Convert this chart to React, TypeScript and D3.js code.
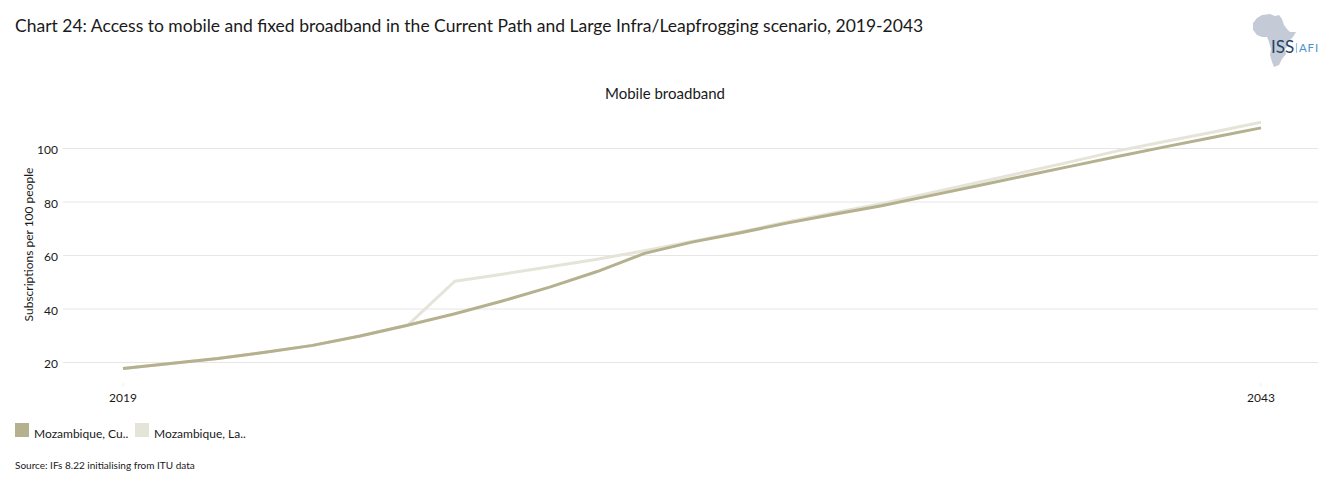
import React from "react";
import * as d3 from "d3";

const years = d3.range(2019, 2044);
const currentPath = [17.8, 19.6, 21.5, 23.8, 26.4, 29.9, 33.9, 38.2, 43, 48.2, 54, 60.8, 65, 68.4, 72.1, 75.4, 78.6, 82.3, 86, 89.7, 93.4, 97.1, 100.7, 104.2, 107.7];
const largeInfra = [17.8, 19.6, 21.5, 23.8, 26.4, 29.9, 33.9, 50.4, 53, 55.8, 58.6, 61.8, 65.2, 68.7, 72.5, 76, 79.4, 83.3, 87.2, 91.1, 95.1, 99.2, 102.7, 106.2, 109.8];
const yTicks = [20, 40, 60, 80, 100];
const xTicks = [2019, 2043];
const legendLabels = ["Mozambique, Cu..", "Mozambique, La.."];
const FONT = "Lato, Carlito, 'Open Sans', sans-serif";
const TEXT = "#1a1a1a";
const CP = "#b5b08e";
const LI = "#e5e4d9";

const africa = "M1262 15 L1270 14 L1275 16 L1279 15 L1282 19 L1284 25 L1287 29 L1290 32 L1296 32 L1293 37 L1288 42 L1287 47 L1285 49 L1286 54 L1282 59 L1279 65 L1274 67 L1272 62 L1270 55 L1271 49 L1269 42 L1267 37 L1262 37 L1257 35 L1253 30 L1253 23 L1257 18 Z";

export default function App() {
  const x = d3.scaleLinear().domain([2019, 2043]).range([123, 1261]);
  const y = d3.scaleLinear().domain([20, 100]).range([362.5, 148.5]);
  const line = d3.line<number>().x((_, i) => x(years[i])).y((d) => y(d));
  return (
    <svg width={1330} height={486} style={{ position: "absolute", left: 0, top: 0, display: "block" }} fontFamily={FONT}>
      <rect width={1330} height={486} fill="#fff" />
      <text x={15} y={32} fontSize={17.5} fill={TEXT}>Chart 24: Access to mobile and fixed broadband in the Current Path and Large Infra/Leapfrogging scenario, 2019-2043</text>
      <path d={africa} fill="#c5cbd6" />
      <text x={1271} y={53} fontSize={17} fill="#1f4468">ISS</text>
      <line x1={1296.5} x2={1296.5} y1={43} y2={53} stroke="#7fb2d6" strokeWidth={0.8} />
      <text x={1299} y={52} fontSize={11.5} fill="#4a94c8" letterSpacing={0.8}>AFI</text>
      <text x={665} y={99} fontSize={15} textAnchor="middle" fill={TEXT}>Mobile broadband</text>
      {yTicks.map((t) => (
        <g key={t}>
          <line x1={63} x2={1318} y1={y(t)} y2={y(t)} stroke="#e6e6e6" strokeWidth={1} />
          <text x={58} y={y(t) + 5.5} fontSize={12} textAnchor="end" fill={TEXT}>{t}</text>
        </g>
      ))}
      <text transform="translate(33,244.5) rotate(-90)" fontSize={12} textAnchor="middle" fill={TEXT}>Subscriptions per 100 people</text>
      {xTicks.map((t) => (
        <g key={t}>
          <line x1={x(t)} x2={x(t)} y1={383} y2={387} stroke="#eeeeee" strokeWidth={1} />
          <text x={x(t)} y={402} fontSize={12} textAnchor="middle" fill={TEXT}>{t}</text>
        </g>
      ))}
      <path d={line(largeInfra) ?? ""} fill="none" stroke={LI} strokeWidth={3} />
      <path d={line(currentPath) ?? ""} fill="none" stroke={CP} strokeWidth={3} />
      {legendLabels.map((l, i) => (
        <g key={l} transform={`translate(${15 + i * 120},423)`}>
          <rect width={14} height={14} fill={i === 0 ? CP : LI} />
          <text x={19} y={15} fontSize={12} fill={TEXT}>{l}</text>
        </g>
      ))}
      <text x={15} y={469} fontSize={10} fill={TEXT}>Source: IFs 8.22 initialising from ITU data</text>
    </svg>
  );
}
